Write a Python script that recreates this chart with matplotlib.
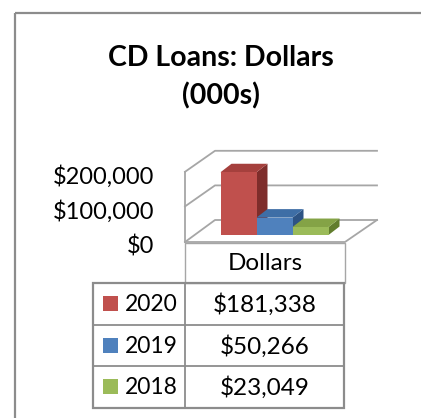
import matplotlib
matplotlib.use("Agg")
import matplotlib.pyplot as plt
from matplotlib.patches import Polygon, Rectangle
from matplotlib.transforms import ScaledTranslation

# ---- data ----
series = ["2020", "2019", "2018"]
values = [181338, 50266, 23049]
value_labels = ["$181,338", "$50,266", "$23,049"]
category = "Dollars"
ticks = [0, 100000, 200000]
tick_labels = ["$0", "$100,000", "$200,000"]
title = "CD Loans: Dollars\n(000s)"

front_cols = ["#C0504D", "#4F81BD", "#9BBB59"]
top_cols = ["#A5403D", "#3E6EA6", "#84A346"]
side_cols = ["#7E2D2B", "#2D5384", "#617D2D"]

W, H = 421, 418
DPI = 100
FONT = "Lato"
fig = plt.figure(figsize=(W / DPI, H / DPI), dpi=DPI)
fig.patch.set_facecolor("white")

# overlay axes in pixel coordinates
ov = fig.add_axes([0, 0, 1, 1])
ov.set_xlim(0, W)
ov.set_ylim(H, 0)
ov.axis("off")

frame_c = "#8c8c8c"
ov.plot([15, 15], [13, H + 5], color=frame_c, lw=1.6, solid_capstyle="butt")
ov.plot([15, W + 5], [13, 13], color=frame_c, lw=1.6, solid_capstyle="butt")

ov.text(221, 77, title, ha="center", va="center", fontsize=20.5, fontweight="bold",
        family=FONT, linespacing=1.5, color="black")

# ---- 3D-like chart axes: x in pixels, y in dollars ----
S = 34.6 / 100000.0      # pixels per dollar
BASE = 235.0             # pixel row of $0 at the bar front plane
ax_l, ax_r, ax_t, ax_b = 160, 390, 135, 250
ax = fig.add_axes([ax_l / W, 1 - ax_b / H, (ax_r - ax_l) / W, (ax_b - ax_t) / H])
ax.set_xlim(ax_l, ax_r)
ax.set_ylim((BASE - ax_b) / S, (BASE - ax_t) / S)
ax.axis("off")
ax.patch.set_alpha(0)

def d(px):
    """pixel offset -> dollar offset"""
    return px / S

grid_c = "#a6a6a6"
wall_x0, wall_x1, wall_xr = 185, 215, 377
front_off = d(-6)   # front edge of side wall relative to bar plane
back_off = d(15)    # back wall relative to bar plane
floor_front = d(-7)
# left wall vertical
ax.plot([wall_x0, wall_x0], [floor_front, ticks[-1] + front_off], color=grid_c, lw=1.3)
# gridlines
for v in ticks:
    y0 = v + front_off if v > 0 else floor_front
    ax.plot([wall_x0, wall_x1, wall_xr], [y0, v + back_off, v + back_off],
            color=grid_c, lw=1.3)
# floor front edge
ax.plot([wall_x0, 345, wall_xr], [floor_front, floor_front, back_off], color=grid_c, lw=1.3)

# bars
bw = 36
dx, dy = 11, d(8.5)
gc = 274.5
xs = [gc + (i - 1) * bw for i in range(len(values))]
for i, (x, v) in enumerate(zip(xs, values)):
    l, r = x - bw / 2, x + bw / 2
    ax.add_patch(Polygon([(r, 0), (r, v), (r + dx, v + dy), (r + dx, dy)],
                         closed=True, facecolor=side_cols[i], edgecolor="none", zorder=3 + i))
    ax.add_patch(Polygon([(l, v), (r, v), (r + dx, v + dy), (l + dx, v + dy)],
                         closed=True, facecolor=top_cols[i], edgecolor="none", zorder=3 + i))
    ax.bar([x], [v], width=bw, color=front_cols[i], zorder=3 + i, linewidth=0)

# tick labels
off = ScaledTranslation(0, -11 / DPI, fig.dpi_scale_trans)
for v, t in zip(ticks, tick_labels):
    ax.text(154, v, t, ha="right", va="center", fontsize=17, family=FONT,
            transform=ax.transData + off, clip_on=False)

# ---- data table ----
tc = "#8c8c8c"
hx0, hx1, hy0, hy1 = 185, 345, 243, 283
ov.add_patch(Rectangle((hx0, hy0), hx1 - hx0, hy1 - hy0, fill=False, edgecolor="#a6a6a6", lw=1.0))
ov.text((hx0 + hx1) / 2, (hy0 + hy1) / 2 + 1, category, ha="center", va="center",
        fontsize=17.5, family=FONT)

tx0, tx1, ty0, rh = 93, 344, 283, 41.5
n = len(series)
ov.add_patch(Rectangle((tx0, ty0), tx1 - tx0, rh * n, fill=False, edgecolor=tc, lw=1.6, zorder=5))
ov.plot([185, 185], [ty0, ty0 + rh * n], color=tc, lw=1.3, zorder=5)
for k in range(1, n):
    ov.plot([tx0, tx1], [ty0 + rh * k, ty0 + rh * k], color=tc, lw=1.3, zorder=5)
for k, (s, lab) in enumerate(zip(series, value_labels)):
    cy = ty0 + rh * (k + 0.5)
    ov.add_patch(Rectangle((103, cy - 7.5), 15, 15, facecolor=front_cols[k], edgecolor="none"))
    ov.text(125, cy + 1, s, ha="left", va="center", fontsize=16.5, family=FONT)
    ov.text(265, cy + 1, lab, ha="center", va="center", fontsize=17.5, family=FONT)

fig.savefig("out.png", dpi=DPI, facecolor="white")
